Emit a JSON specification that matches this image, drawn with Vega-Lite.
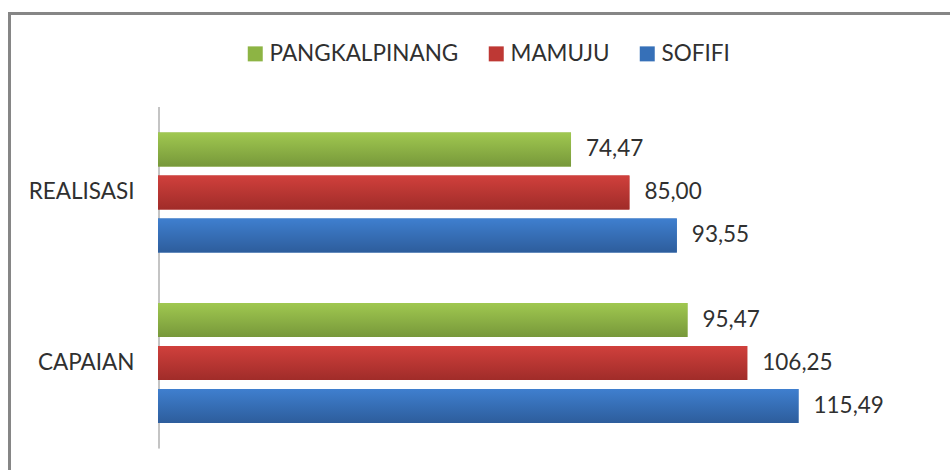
{
  "$schema": "https://vega.github.io/schema/vega-lite/v6.json",
  "autosize": {"type": "none"},
  "padding": {"left": 9.5, "top": 13.5, "right": 0, "bottom": 0},
  "width": 950,
  "height": 470,
  "background": "white",
  "config": {
    "locale": {"number": {"decimal": ",", "thousands": ".", "grouping": [3], "currency": ["", ""]}},
    "view": {"stroke": "#868686", "strokeWidth": 3},
    "font": "Lato"
  },
  "data": {
    "values": [
      {"kategori": "REALISASI", "kota": "PANGKALPINANG", "nilai": 74.47},
      {"kategori": "REALISASI", "kota": "MAMUJU", "nilai": 85.00},
      {"kategori": "REALISASI", "kota": "SOFIFI", "nilai": 93.55},
      {"kategori": "CAPAIAN", "kota": "PANGKALPINANG", "nilai": 95.47},
      {"kategori": "CAPAIAN", "kota": "MAMUJU", "nilai": 106.25},
      {"kategori": "CAPAIAN", "kota": "SOFIFI", "nilai": 115.49}
    ]
  },
  "encoding": {
    "y": {
      "field": "kategori", "type": "nominal",
      "scale": {"domain": ["REALISASI", "CAPAIAN"], "paddingInner": 0, "paddingOuter": 0.3783, "align": 0.7267},
      "axis": {"title": null, "orient": "left", "offset": -124.5, "domain": false, "ticks": false, "tickSize": 0, "labelPadding": 0, "labelFont": "Lato", "labelFontSize": 22.5, "labelColor": "#303030", "labelAlign": "right", "labelBaseline": "middle"}
    }
  },
  "layer": [
    {
      "mark": {"type": "rect", "color": "#C4C4C4"},
      "encoding": {
        "x": {"datum": 0, "type": "quantitative", "scale": {"domain": [-26.78, 144.52], "nice": false, "zero": false}, "axis": null},
        "x2": {"datum": 0.36}
      }
    },
    {
      "mark": {"type": "bar"},
      "encoding": {
        "x": {"field": "nilai", "type": "quantitative", "scale": {"domain": [-26.78, 144.52], "nice": false, "zero": false}, "axis": null},
        "yOffset": {"field": "kota", "type": "nominal", "scale": {"domain": ["PANGKALPINANG", "MAMUJU", "SOFIFI"], "paddingInner": 0.209, "paddingOuter": 0.587}},
        "color": {
          "field": "kota", "type": "nominal",
          "scale": {"domain": ["PANGKALPINANG", "MAMUJU", "SOFIFI"], "range": ["#8DB444", "#BE3834", "#3670B8"]},
          "legend": {
            "title": null, "orient": "none", "direction": "horizontal", "legendX": 234.5, "legendY": 29,
            "symbolType": "square", "symbolSize": 225, "symbolStrokeWidth": 0, "symbolOpacity": 1,
            "labelFont": "Lato", "labelFontSize": 22.5, "labelColor": "#303030", "labelOffset": 3, "columnPadding": 26, "labelLimit": 400
          }
        }
      }
    },
    {
      "mark": {"type": "bar"},
      "encoding": {
        "x": {"field": "nilai", "type": "quantitative", "scale": {"domain": [-26.78, 144.52], "nice": false, "zero": false}, "axis": null},
        "yOffset": {"field": "kota", "type": "nominal", "scale": {"domain": ["PANGKALPINANG", "MAMUJU", "SOFIFI"], "paddingInner": 0.209, "paddingOuter": 0.587}},
        "fill": {
          "condition": [
            {"test": "datum.kota === 'PANGKALPINANG'", "value": {"gradient": "linear", "x1": 0, "y1": 0, "x2": 0, "y2": 1, "stops": [{"offset": 0, "color": "#A0C850"}, {"offset": 1, "color": "#77983A"}]}},
            {"test": "datum.kota === 'MAMUJU'", "value": {"gradient": "linear", "x1": 0, "y1": 0, "x2": 0, "y2": 1, "stops": [{"offset": 0, "color": "#D0403C"}, {"offset": 1, "color": "#A02C29"}]}}
          ],
          "value": {"gradient": "linear", "x1": 0, "y1": 0, "x2": 0, "y2": 1, "stops": [{"offset": 0, "color": "#3F7FCF"}, {"offset": 1, "color": "#2D5D9C"}]}
        }
      }
    },
    {
      "mark": {"type": "text", "align": "left", "baseline": "middle", "dx": 15, "font": "Lato", "fontSize": 22.5, "color": "#303030"},
      "encoding": {
        "x": {"field": "nilai", "type": "quantitative", "scale": {"domain": [-26.78, 144.52], "nice": false, "zero": false}, "axis": null},
        "yOffset": {"field": "kota", "type": "nominal", "scale": {"domain": ["PANGKALPINANG", "MAMUJU", "SOFIFI"], "paddingInner": 0.209, "paddingOuter": 0.587}},
        "text": {"field": "nilai", "type": "quantitative", "format": ".2f"}
      }
    }
  ]
}
